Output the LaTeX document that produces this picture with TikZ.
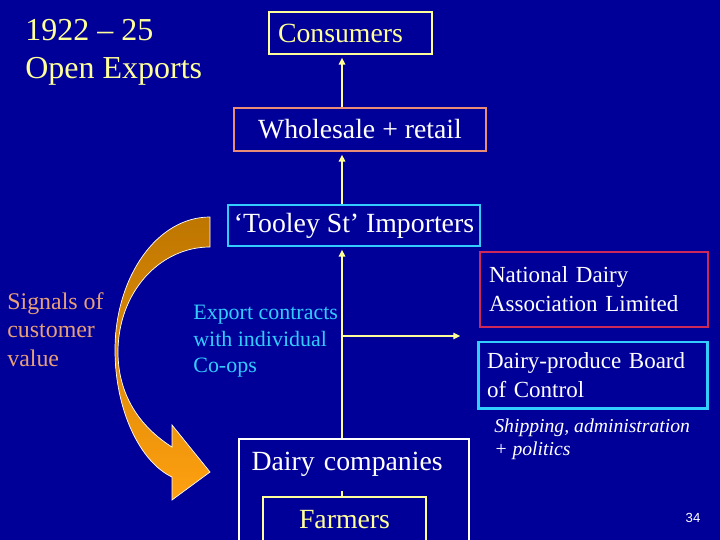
\documentclass[tikz,border=0pt]{standalone}
\usepackage{fontspec}
\setmainfont{Liberation Serif}
\newfontfamily\numfont{Liberation Sans}
\usepackage{xcolor}
\usetikzlibrary{arrows.meta,positioning,calc}
\definecolor{slideblue}{RGB}{0,0,153}
\definecolor{paleyellow}{RGB}{255,255,153}
\definecolor{salmon}{RGB}{232,140,120}
\definecolor{skyblue}{RGB}{51,204,255}
\definecolor{crimson}{RGB}{204,40,90}
\definecolor{signaltan}{RGB}{230,160,120}
\definecolor{darkorange}{RGB}{190,118,0}
\definecolor{brightorange}{RGB}{255,160,16}

\begin{document}
\begin{tikzpicture}[x=0.02cm,y=-0.02cm,
	box/.style={draw,line width=1.1pt,inner xsep=0.18cm,inner ysep=0},
	bigtext/.style={font=\fontsize{15.8}{19}\selectfont},
	midtext/.style={font=\fontsize{13.1}{16.4}\selectfont},
	flow/.style={paleyellow,line width=1.1pt,shorten >=1.5pt,
		-{Triangle[length=4pt,width=3.6pt,fill=yellow]}},
	link/.style={paleyellow,line width=1.1pt}]
		\useasboundingbox (0,0) rectangle (720,540);
		\fill[slideblue] (0,0) rectangle (720,540);
		% curved arrow on the left
		\shade[top color=darkorange,bottom color=brightorange,draw=white,line width=0.4pt]
			(210,217) .. controls (157,217) and (115,277) .. (115,350)
			.. controls (115,410) and (140,462) .. (172,477)
			-- (172,500) -- (210,472) -- (172,425) -- (172,447)
			.. controls (145,430) and (118,400) .. (118,352)
			.. controls (118,292) and (160,247) .. (210,247) -- cycle;
		% chain of boxes
		\node[box,bigtext,draw=paleyellow,text=paleyellow,text width=2.9cm,align=left,minimum height=0.84cm] (consumers) at (350.5,33) {Consumers};
		\node[box,bigtext,draw=salmon,text=white,minimum width=5.04cm,minimum height=0.86cm] (wholesale) at (360,129.5) {Wholesale + retail};
		\node[box,bigtext,draw=skyblue,text=white,inner xsep=0.08cm,minimum width=5.04cm,minimum height=0.82cm] (tooley) at (354,225.5) {‘Tooley St’ Importers};
		\node[box,midtext,draw=crimson,text=white,text width=4.2cm,align=left,minimum height=1.5cm] (nda) at (594,289.5) {National Dairy\\Association Limited};
		\node[box,midtext,draw=skyblue,line width=1.7pt,text=white,text width=4.24cm,align=left,minimum height=1.34cm] (board) at (593,375.5) {Dairy-produce Board\\of Control};
		\node[box,bigtext,draw=white,text=white,anchor=north,inner xsep=0.25cm,text width=4.1cm,align=left,text height=0.64cm,text depth=1.5cm] (dairyco) at (354,438) {Dairy companies};
		\node[box,bigtext,draw=paleyellow,text=paleyellow,anchor=north,minimum width=3.26cm,text height=0.64cm,text depth=0.4cm] (farmers) at (344.5,496) {Farmers};
		% connectors
		\coordinate (spine) at (342,0);
		\coordinate (fork) at (342,336);
		\coordinate (bodies) at (463,336);
		\draw[flow] (wholesale.north -| spine) -- (consumers.south -| spine);
		\draw[flow] (tooley.north -| spine) -- (wholesale.south -| spine);
		\draw[flow] (dairyco.north -| spine) -- (tooley.south -| spine);
		\draw[flow] (fork) -- (bodies);
		\draw[link] (farmers.north -| spine) -- ++(0,-5);
		% free texts
		\node[anchor=north west,inner sep=0,align=left,text=paleyellow,font=\fontsize{18.2}{21.5}\selectfont] (title) at (25,19) {1922 – 25\\Open Exports};
		\node[anchor=north west,inner sep=0,align=left,text=signaltan,font=\fontsize{13.6}{16.2}\selectfont] (signals) at (7,292) {Signals of\\customer\\value};
		\node[anchor=north west,inner sep=0,align=left,text=skyblue,font=\fontsize{12.5}{15}\selectfont] (contracts) at (193,305) {Export contracts\\with individual\\Co-ops};
		\node[anchor=north west,inner sep=0,align=left,text=white,font=\itshape\fontsize{11.2}{13.6}\selectfont] (remit) at (494,418) {Shipping, administration\\+ politics};
		\node[text=white,inner sep=0,font=\numfont\fontsize{7.5}{9}\selectfont] (pageno) at (693,518) {34};
	\end{tikzpicture}
\end{document}
